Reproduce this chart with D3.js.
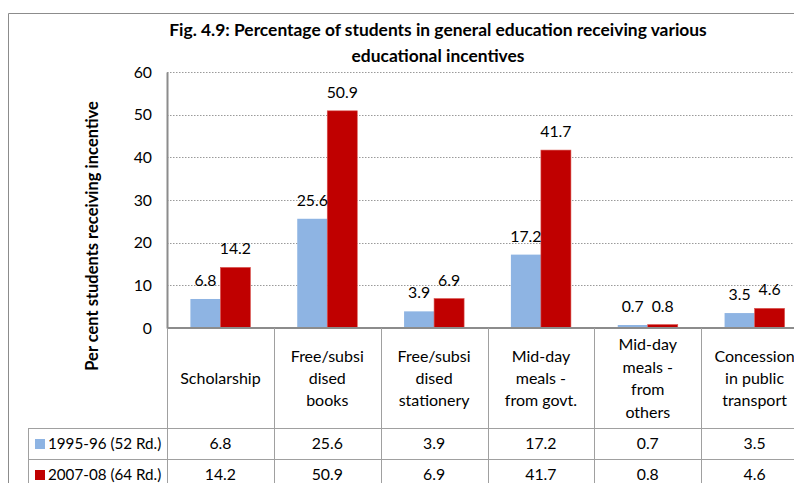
<!DOCTYPE html>
<html>
<head>
<meta charset="utf-8">
<script src="https://cdn.jsdelivr.net/npm/d3@7"></script>
<style>
  body { margin: 0; background: #fff; }
  svg { display: block; font-family: Lato, "Open Sans", sans-serif; }
</style>
</head>
<body>
<svg width="794" height="483"></svg>
<script>
// data
const categories = [
  ['Scholarship'],
  ['Free/subsi', 'dised', 'books'],
  ['Free/subsi', 'dised', 'stationery'],
  ['Mid-day', 'meals -', 'from govt.'],
  ['Mid-day', 'meals -', 'from', 'others'],
  ['Concession', 'in public', 'transport']
]
const seriesNames = ['1995-96 (52 Rd.)', '2007-08 (64 Rd.)']
const values1995 = [6.8, 25.6, 3.9, 17.2, 0.7, 3.5]
const values2007 = [14.2, 50.9, 6.9, 41.7, 0.8, 4.6]
const yTicks = [0, 10, 20, 30, 40, 50, 60]
const colors = ['#8EB4E3', '#C00000']

const series = [values1995, values2007]
const svg = d3.select('svg')

let plotLeft = 167, plotRight = 808, plotTop = 72, plotBottom = 328
let fs = 15.8

let x = d3.scaleBand()
  .domain(d3.range(categories.length))
  .range([plotLeft, plotRight])
let x1 = d3.scaleBand()
  .domain([0, 1])
  .range([0, x.bandwidth()])
  .paddingOuter(0.78)
let y = d3.scaleLinear()
  .domain([0, 60])
  .range([plotBottom, plotTop])

// outer frame
svg.append('path')
  .attr('d', 'M8.5,483 V13.5 H794')
  .attr('fill', 'none')
  .attr('stroke', '#8c8c8c')
  .attr('stroke-width', 1)

// title
let title = svg.append('text')
  .attr('text-anchor', 'middle')
  .attr('font-weight', 'bold')
  .attr('font-size', 17.4)
  .attr('fill', '#000')
title.append('tspan').attr('x', 438).attr('y', 36).text('Fig. 4.9: Percentage of students in general education receiving various')
title.append('tspan').attr('x', 438).attr('y', 62).text('educational incentives')

// grid
svg.append('g')
  .selectAll('line')
  .data(yTicks.filter(d => d > 0))
  .join('line')
    .attr('x1', plotLeft)
    .attr('x2', 794)
    .attr('y1', d => Math.round(y(d)) + 0.5)
    .attr('y2', d => Math.round(y(d)) + 0.5)
    .attr('stroke', '#9a9a9a')
    .attr('stroke-dasharray', '1.5,1.5')

// y axis
let yAxis = svg.append('g')
  .attr('transform', `translate(${plotLeft},0)`)
  .call(d3.axisLeft(y).tickValues(yTicks).tickSize(0).tickPadding(15))
yAxis.select('.domain').attr('stroke', '#8c8c8c').attr('stroke-width', 2)
yAxis.selectAll('text')
  .attr('font-size', fs)
  .attr('font-family', 'Lato, sans-serif')
  .attr('fill', '#000')

svg.append('text')
  .attr('transform', 'translate(98,236) rotate(-90)')
  .attr('text-anchor', 'middle')
  .attr('font-weight', 'bold')
  .attr('font-size', 16.5)
  .text('Per cent students receiving incentive')

// bars
let groups = svg.append('g')
  .selectAll('g')
  .data(categories.map((c, i) => i))
  .join('g')
    .attr('transform', i => `translate(${x(i)},0)`)

groups.selectAll('rect')
  .data(i => series.map((s, k) => ({ k: k, v: s[i] })))
  .join('rect')
    .attr('x', d => x1(d.k))
    .attr('width', x1.bandwidth())
    .attr('y', d => y(d.v))
    .attr('height', d => plotBottom - y(d.v))
    .attr('fill', d => colors[d.k])
    .attr('stroke', d => d.k === 1 ? '#d9544f' : 'none')
    .attr('stroke-width', 0.6)

groups.selectAll('text.lbl')
  .data(i => series.map((s, k) => ({ k: k, v: s[i] })))
  .join('text')
    .classed('lbl', true)
    .attr('x', d => x1(d.k) + x1.bandwidth() / 2)
    .attr('y', d => y(d.v) - 13)
    .attr('text-anchor', 'middle')
    .attr('font-size', fs)
    .text(d => d.v.toFixed(1))

// zero line
svg.append('line')
  .attr('x1', plotLeft).attr('x2', 794)
  .attr('y1', plotBottom).attr('y2', plotBottom)
  .attr('stroke', '#8c8c8c')
  .attr('stroke-width', 2)

// data table
let rowTop = 428, rowH = 31
let table = svg.append('g').attr('stroke', '#a0a0a0').attr('stroke-width', 1)
d3.range(categories.length + 1).forEach(i => {
  let xx = i < categories.length ? x(i) : plotRight
  table.append('line')
    .attr('x1', Math.round(xx) + 0.5).attr('x2', Math.round(xx) + 0.5)
    .attr('y1', plotBottom).attr('y2', 483)
})
table.append('line')
  .attr('x1', 28.5).attr('x2', 28.5)
  .attr('y1', rowTop).attr('y2', 483)
;[rowTop, rowTop + rowH].forEach(yy => {
  table.append('line')
    .attr('x1', 28).attr('x2', 794)
    .attr('y1', yy + 0.5).attr('y2', yy + 0.5)
})

// category labels
let catText = svg.append('g')
  .selectAll('text')
  .data(categories)
  .join('text')
    .attr('text-anchor', 'middle')
    .attr('font-size', 16)
    .attr('x', (d, i) => x(i) + x.bandwidth() / 2)
    .attr('y', d => 384 - (d.length - 1) * 11.2)
catText.selectAll('tspan')
  .data(d => d)
  .join('tspan')
    .attr('x', function () { return this.parentNode.getAttribute('x') })
    .attr('dy', (d, i) => i === 0 ? 0 : 22.4)
    .text(d => d)

// table values
series.forEach((s, k) => {
  let yy = rowTop + rowH * k + 21
  svg.append('g')
    .selectAll('text')
    .data(s)
    .join('text')
      .attr('x', (d, i) => x(i) + x.bandwidth() / 2)
      .attr('y', yy)
      .attr('text-anchor', 'middle')
      .attr('font-size', fs)
      .text(d => d.toFixed(1))
  svg.append('rect')
    .attr('x', 35).attr('y', yy - 10)
    .attr('width', 10).attr('height', 10)
    .attr('fill', colors[k])
  svg.append('text')
    .attr('x', 48).attr('y', yy)
    .attr('font-size', 15.2)
    .text(seriesNames[k])
})
</script>
</body>
</html>
